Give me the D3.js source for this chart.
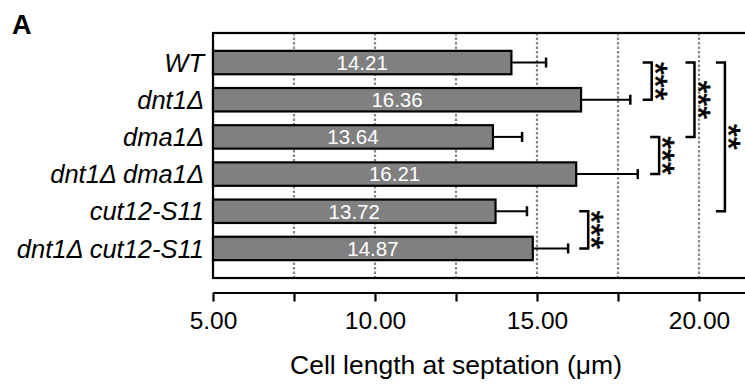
<!DOCTYPE html>
<meta charset="utf-8">
<style>
  body { margin: 0; background: #fff; }
  text { font-family: "Liberation Sans", Arial, sans-serif; }
</style>
<body>
<script src="https://d3js.org/d3.v7.min.js"></script>
<script>

// strains, mean cell length at septation and SD
var strains = ["WT", "dnt1\u0394", "dma1\u0394", "dnt1\u0394 dma1\u0394", "cut12-S11", "dnt1\u0394 cut12-S11"];
var means   = [14.21, 16.36, 13.64, 16.21, 13.72, 14.87];
var sds     = [1.07, 1.52, 0.90, 1.90, 0.97, 1.09];

var xTicks = [5, 7.5, 10, 12.5, 15, 17.5, 20];

// significance brackets: first strain, second strain, stars, x position (axis units)
var bracketFrom  = [0, 2, 0, 0, 4];
var bracketTo    = [1, 3, 2, 4, 5];
var bracketStars = ["***", "***", "***", "**", "***"];
var bracketAt    = [18.54, 18.77, 19.86, 20.80, 16.58];

var width = 745,
    height = 388,
    plotLeft = 213,
    plotTop = 33,
    plotBottom = 278;

var svg = d3.select("body").append("svg")
    .attr("width", width)
    .attr("height", height);

var x = d3.scaleLinear()
    .domain([5, 22])
    .range([plotLeft, plotLeft + 17 * 32.4]);

var y = d3.scaleBand()
    .domain(strains)
    .range([plotTop, plotBottom])
    .paddingInner(0.37)
    .paddingOuter(0.48);

// dotted grid
svg.append("g").selectAll("line")
    .data(xTicks.slice(1))
  .enter().append("line")
    .attr("x1", function(d) { return x(d); })
    .attr("x2", function(d) { return x(d); })
    .attr("y1", plotTop)
    .attr("y2", plotBottom)
    .style("stroke", "#888")
    .style("stroke-width", 2.2)
    .style("stroke-dasharray", "2.5,2");

// frame
svg.append("rect")
    .attr("x", x(5))
    .attr("y", plotTop)
    .attr("width", x(22) - x(5))
    .attr("height", plotBottom - plotTop)
    .style("fill", "none")
    .style("stroke", "#000")
    .style("stroke-width", 2.2);

var rows = svg.append("g").selectAll("g")
    .data(strains)
  .enter().append("g");

// error bars
rows.append("line")
    .attr("x1", function(d, i) { return x(means[i]); })
    .attr("x2", function(d, i) { return x(means[i] + sds[i]); })
    .attr("y1", function(d) { return y(d) + y.bandwidth() / 2; })
    .attr("y2", function(d) { return y(d) + y.bandwidth() / 2; })
    .style("stroke", "#000")
    .style("stroke-width", 2);

rows.append("line")
    .attr("x1", function(d, i) { return x(means[i] + sds[i]); })
    .attr("x2", function(d, i) { return x(means[i] + sds[i]); })
    .attr("y1", function(d) { return y(d) + y.bandwidth() / 2 - 5; })
    .attr("y2", function(d) { return y(d) + y.bandwidth() / 2 + 5; })
    .style("stroke", "#000")
    .style("stroke-width", 2.5);

rows.append("rect")
    .attr("x", x(5))
    .attr("y", function(d) { return y(d); })
    .attr("width", function(d, i) { return x(means[i]) - x(5); })
    .attr("height", y.bandwidth())
    .style("fill", "#808080")
    .style("stroke", "#000")
    .style("stroke-width", 2.2);

rows.append("text")
    .attr("x", function(d, i) { return (x(5) + x(means[i])) / 2; })
    .attr("y", function(d) { return y(d) + y.bandwidth() / 2; })
    .attr("dy", "0.36em")
    .attr("text-anchor", "middle")
    .style("fill", "#fff")
    .style("font-size", "20.5px")
    .text(function(d, i) { return means[i].toFixed(2); });

// strain labels
rows.append("text")
    .attr("x", plotLeft - 9)
    .attr("y", function(d) { return y(d) + y.bandwidth() / 2; })
    .attr("dy", "0.36em")
    .attr("text-anchor", "end")
    .style("font-size", "25.5px")
    .style("font-style", "italic")
    .text(function(d) { return d; });

// brackets
var mid = function(i) { return y(strains[i]) + y.bandwidth() / 2; };
var br = svg.append("g").selectAll("g")
    .data(bracketStars)
  .enter().append("g");

br.append("path")
    .attr("d", function(d, i) {
      var bx = x(bracketAt[i]);
      return "M" + (bx - 9) + "," + mid(bracketFrom[i]) + "H" + bx +
             "V" + mid(bracketTo[i]) + "H" + (bx - 9);
    })
    .style("fill", "none")
    .style("stroke", "#000")
    .style("stroke-width", 2.5);

br.append("text")
    .attr("transform", function(d, i) {
      var cy = (mid(bracketFrom[i]) + mid(bracketTo[i])) / 2;
      return "translate(" + (x(bracketAt[i]) + 12) + "," + cy + ") rotate(90)";
    })
    .attr("dy", "0.6em")
    .attr("text-anchor", "middle")
    .style("font-size", "33px")
    .style("stroke", "#000")
    .style("stroke-width", 0.6)
    .text(function(d) { return d; });

// x axis
var axis = svg.append("g")
    .attr("transform", "translate(0,292.5)")
    .call(d3.axisBottom(x)
      .tickValues(xTicks)
      .tickFormat(function(d) { return d % 5 === 0 ? d3.format(".2f")(d) : ""; })
      .tickSize(9)
      .tickSizeOuter(0)
      .tickPadding(10));

axis.selectAll("path, line").style("stroke", "#000").style("stroke-width", 2.2);
axis.selectAll("text")
    .style("font-size", "24.5px")
    .style("font-family", "'Liberation Sans', Arial, sans-serif")
    .style("fill", "#000");

svg.append("text")
    .attr("x", x(12.5))
    .attr("y", 374)
    .attr("text-anchor", "middle")
    .style("font-size", "26.5px")
    .text("Cell length at septation (\u03bcm)");

svg.append("text")
    .attr("x", 12)
    .attr("y", 34)
    .style("font-size", "27px")
    .style("font-weight", "bold")
    .text("A");

</script>
